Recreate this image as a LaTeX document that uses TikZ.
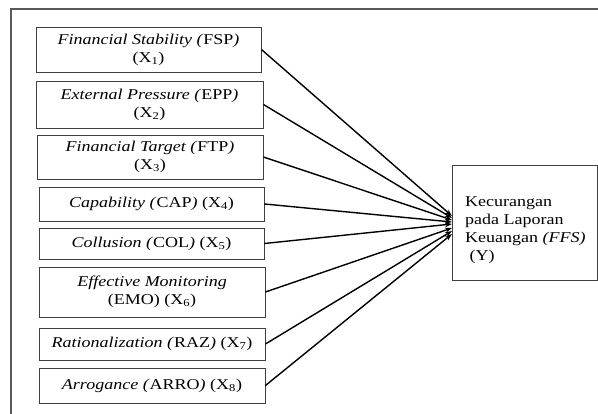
\documentclass[tikz,border=0pt]{standalone}
\usepackage{fontspec}
\setmainfont[FakeStretch=1.2]{Liberation Serif}
\usetikzlibrary{arrows.meta}
\begin{document}
\begin{tikzpicture}[x=1pt,y=-1pt,
  varbox/.style={draw=black!75,line width=0.9pt,align=center,inner sep=0pt,
    font=\fontsize{15}{18}\selectfont},
  link/.style={line width=1.4pt,-{Stealth[length=7pt,width=5pt]}}]
\useasboundingbox (0,0) rectangle (598,414);
\draw[black!65,line width=1.5pt] (598,9) -- (11,9) -- (11,414);
\node[varbox,minimum width=225pt,minimum height=45pt] (x1) at (148.5,49.5)
  {\textit{Financial Stability (}FSP\textit{)}\\(X\textsubscript{1})};
\node[varbox,minimum width=227pt,minimum height=47pt] (x2) at (149.5,104.5)
  {\textit{External Pressure (}EPP\textit{)}\\(X\textsubscript{2})};
\node[varbox,minimum width=226pt,minimum height=44pt] (x3) at (150,157)
  {\textit{Financial Target (}FTP\textit{)}\\(X\textsubscript{3})};
\node[varbox,minimum width=225pt,minimum height=34pt] (x4) at (151.5,204)
  {\textit{Capability (}CAP\textit{)} (X\textsubscript{4})};
\node[varbox,minimum width=225pt,minimum height=31pt] (x5) at (151.5,243.5)
  {\textit{Collusion (}COL\textit{)} (X\textsubscript{5})};
\node[varbox,minimum width=226pt,minimum height=50pt] (x6) at (152,292)
  {\textit{Effective Monitoring}\\(EMO) (X\textsubscript{6})};
\node[varbox,minimum width=226pt,minimum height=32pt] (x7) at (152,344)
  {\textit{Rationalization (}RAZ\textit{)} (X\textsubscript{7})};
\node[varbox,minimum width=226pt,minimum height=35pt] (x8) at (152,385.5)
  {\textit{Arrogance (}ARRO\textit{)} (X\textsubscript{8})};
\node[draw=black!75,line width=0.9pt,minimum width=145pt,minimum height=115pt,inner sep=0pt] (y) at (524.5,222.5) {};
\node[anchor=north west,align=left,inner sep=0pt,font=\fontsize{15}{18}\selectfont] (ytext) at (465,196)
  {Kecurangan\\pada Laporan\\Keuangan \textit{(FFS)}\\\ (Y)};
\coordinate (e1) at (452,216);
\coordinate (e2) at (452,218);
\coordinate (e3) at (452,220);
\coordinate (e4) at (452,222);
\coordinate (e5) at (452,224);
\coordinate (e6) at (452,228);
\coordinate (e7) at (452,231);
\coordinate (e8) at (452,234);
\foreach \i in {1,...,8} \draw[link] (x\i.east) -- (e\i);
\end{tikzpicture}
\end{document}
